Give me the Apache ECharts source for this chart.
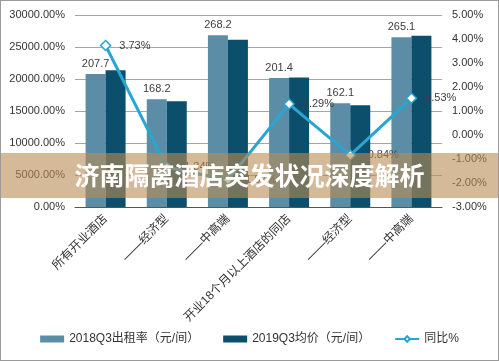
<!DOCTYPE html>
<html><head><meta charset="utf-8">
<script src="https://cdn.jsdelivr.net/npm/echarts@6/dist/echarts.min.js"></script>
<style>
html,body{margin:0;padding:0;background:#fff;}
#c{width:497px;height:359px;border:1px solid #9a9a9a;}
</style></head>
<body><div id="c"></div>
<script>
var categories = ['所有开业酒店','——经济型','——中高端','开业18个月以上酒店的同店','——经济型','——中高端'];
var rent2018 = [207.7, 168.2, 268.2, 201.4, 162.1, 265.1];
var price2019 = [213.5, 165.3, 261.5, 202.3, 158.8, 267.4];
var yoy = [3.73, -1.34, -1.87, 1.29, -0.84, 1.53];
var seriesNames = ['2018Q3出租率（元/间）','2019Q3均价（元/间）','同比%'];
var title = '济南隔离酒店突发状况深度解析';

var FONT = '"Liberation Sans", "Noto Sans CJK SC", sans-serif';
var chart = echarts.init(document.getElementById('c'));
chart.setOption({
  animation:false,
  textStyle:{fontFamily:FONT},
  grid:{left:74,right:56,top:14,bottom:153},
  legend:{
    bottom:10, left:'center', itemGap:24,
    textStyle:{fontSize:12,color:'#333',fontFamily:FONT},
    data:[
      {name:seriesNames[0],icon:'rect',itemStyle:{}},
      {name:seriesNames[1],icon:'rect'},
      {name:seriesNames[2]}
    ],
    itemWidth:24,itemHeight:7
  },
  xAxis:{
    type:'category',data:categories,
    axisLine:{lineStyle:{color:'#555',width:1}},
    axisTick:{show:false},
    axisLabel:{rotate:45,fontSize:12,color:'#333',margin:10,interval:0}
  },
  yAxis:[{
    type:'value',min:0,max:300,interval:50,
    axisLine:{show:false},axisTick:{show:false},
    splitLine:{lineStyle:{color:'#a6a6a6',width:1}},
    axisLabel:{fontSize:11,color:'#333',margin:10,formatter:function(v){return (v*100).toFixed(2)+'%';}}
  },{
    type:'value',min:-3,max:5,interval:1,
    axisLine:{show:false},axisTick:{show:false},splitLine:{show:false},
    axisLabel:{fontSize:11,color:'#333',margin:10,formatter:function(v){return v.toFixed(2)+'%';}}
  }],
  series:[{
    name:seriesNames[0],type:'bar',data:rent2018,barWidth:20,barGap:'0%',
    itemStyle:{color:'#5b8ea6'},
    label:{show:true,position:'top',distance:5,fontSize:11,color:'#404040'}
  },{
    name:seriesNames[1],type:'bar',data:price2019,barWidth:20,
    itemStyle:{color:'#0c4f6c'}
  },{
    name:seriesNames[2],type:'line',yAxisIndex:1,data:yoy,z:5,
    lineStyle:{color:'#2aa5d2',width:3},
    symbol:'diamond',symbolSize:10,
    itemStyle:{color:'#ffffff',borderColor:'#2aa5d2',borderWidth:1.5},
    label:{show:true,position:'right',distance:8,fontSize:11,color:'#404040',
      formatter:function(p){return p.value.toFixed(2)+'%';}}
  }],
  graphic:[{
    type:'rect',left:-1,top:152,z:100,
    shape:{width:499,height:45},
    style:{fill:'rgba(185,140,85,0.6)'}
  },{
    type:'text',left:'center',top:162,z:101,
    style:{text:title,fill:'#ffffff',font:'bold 25px "Noto Sans CJK SC", sans-serif'}
  }]
});
</script></body></html>
